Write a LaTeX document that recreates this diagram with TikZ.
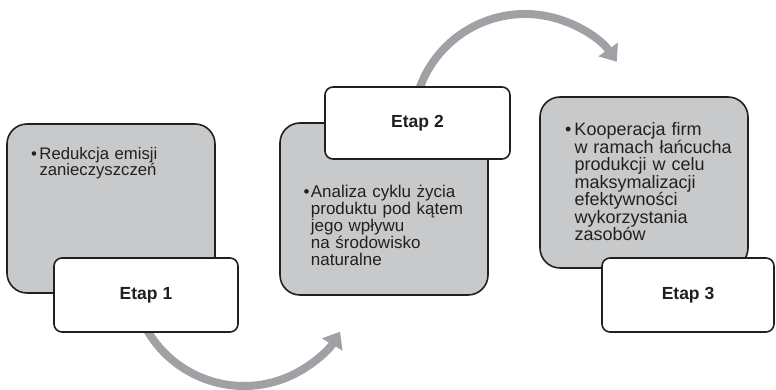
\documentclass[tikz,border=0pt]{standalone}
\usepackage{fontspec}
\setmainfont{Liberation Sans}
\usetikzlibrary{arrows.meta}

\definecolor{panelgrey}{RGB}{200,201,202}
\definecolor{arrowgrey}{RGB}{160,161,164}
\definecolor{edgeblack}{RGB}{35,31,32}

\tikzset{
  panel/.style={draw=edgeblack, line width=1.6pt, fill=panelgrey,
    rounded corners=20pt, minimum width=208pt, inner sep=0pt},
  stagebox/.style={draw=edgeblack, line width=1.6pt, fill=white,
    rounded corners=8pt, inner sep=0pt, font=\bfseries\fontsize{17.5}{20}\selectfont,
    text=edgeblack},
  bullettext/.style={anchor=base west, inner sep=0pt,
    text=edgeblack, text width=200pt},
  flowarc/.style={draw=arrowgrey, line width=8pt,
    -{Triangle[width=23pt,length=15pt]}}
}

% hanging bullet item: bullet, then lines indented under the first word
\newcommand{\bulletitem}[2]{\raggedright\hangindent=#1\hangafter=1\noindent
  \makebox[#1][l]{\textbullet}#2\par}

\begin{document}
\begin{tikzpicture}[x=1pt,y=1pt]
  \useasboundingbox (0,0) rectangle (776,390);

  % centres of the two curved arrows
  \coordinate (c1) at (244,116);
  \coordinate (c2) at (525,264);

  % curved arrows between the stages (drawn first, boxes cover their tails)
  \draw[flowarc] ([shift={(207:112)}]c1) arc[start angle=207, end angle=329, radius=112];
  \draw[flowarc] ([shift={(168:112)}]c2) arc[start angle=168, end angle=35, radius=112];

  % stage 1
  \node[panel, minimum height=169pt] (p1) at (111,181.5) {};
  \node[bullettext, font=\fontsize{16.7}{16.3}\selectfont] (t1) at (31,230.7)
    {\bulletitem{8.3pt}{Redukcja emisji\newline zanieczyszczeń}};
  \node[stagebox, minimum width=184pt, minimum height=74pt] (s1) at (146,95) {Etap 1};

  % stage 2
  \node[panel, minimum height=172pt] (p2) at (384,181) {};
  \node[bullettext, font=\fontsize{17}{17}\selectfont] (t2) at (303.5,192.3)
    {\bulletitem{7.2pt}{Analiza cyklu życia\newline produktu pod kątem\newline jego wpływu\newline na środowisko\newline naturalne}};
  \node[stagebox, minimum width=185pt, minimum height=72pt] (s2) at (417.5,267) {Etap 2};

  % stage 3
  \node[panel, minimum height=171pt] (p3) at (644,207.5) {};
  \node[bullettext, font=\fontsize{18}{17.5}\selectfont] (t3) at (565,254.3)
    {\bulletitem{9.3pt}{Kooperacja firm\newline w ramach łańcucha\newline produkcji w celu\newline maksymalizacji\newline efektywności\newline wykorzystania\newline zasobów}};
  \node[stagebox, minimum width=172pt, minimum height=74pt] (s3) at (688,95) {Etap 3};
\end{tikzpicture}
\end{document}
